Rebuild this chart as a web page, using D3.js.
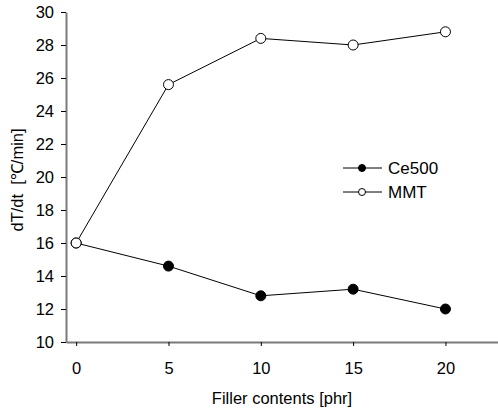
<!DOCTYPE html>
<html>
<head>
<meta charset="utf-8">
<script src="https://cdn.jsdelivr.net/npm/d3@7"></script>
<style>
  body { margin: 0; background: #fff; }
  svg { display: block; font-family: "Liberation Sans", Arial, sans-serif; }
</style>
</head>
<body>
<svg id="chart" width="498" height="413"></svg>
<script>
const fillerContents = [0, 5, 10, 15, 20];
const ce500Values = [16.0, 14.6, 12.8, 13.2, 12.0];
const mmtValues = [16.0, 25.6, 28.4, 28.0, 28.8];
const xTickValues = [0, 5, 10, 15, 20];
const yTickValues = [10, 12, 14, 16, 18, 20, 22, 24, 26, 28, 30];
const seriesNames = ["Ce500", "MMT"];
const xTitle = "Filler contents [phr]";
const yTitle = "dT/dt  [\u2103/min]";

const svg = d3.select("#chart");
const x = d3.scaleLinear().domain([-0.55, 22.9]).range([66, 499]);
const y = d3.scaleLinear().domain([10, 30]).range([342, 12]);

const series = [
  { name: seriesNames[0], values: ce500Values, fill: "#000" },
  { name: seriesNames[1], values: mmtValues, fill: "#fff" }
];

// axes
const xAxis = svg.append("g").attr("transform", "translate(0,342)")
  .call(d3.axisBottom(x).tickValues(xTickValues).tickSizeInner(4).tickSizeOuter(0).tickPadding(16));
const yAxis = svg.append("g").attr("transform", "translate(66,0)")
  .call(d3.axisLeft(y).tickValues(yTickValues).tickSizeInner(5).tickSizeOuter(0).tickPadding(7));
[xAxis, yAxis].forEach(g => {
  g.select(".domain").attr("stroke", "#7a7a7a").attr("stroke-width", 2);
  g.selectAll(".tick line").attr("stroke", "#000").attr("stroke-width", 1);
  g.selectAll(".tick text").attr("fill", "#000").style("font-size", "16.5px")
    .style("font-family", "'Liberation Sans', Arial, sans-serif");
});

// axis titles
svg.append("text").attr("x", 282).attr("y", 404).attr("text-anchor", "middle")
  .style("font-size", "16.5px").text(xTitle);
svg.append("text").attr("transform", "translate(23,180) rotate(-90)")
  .attr("text-anchor", "middle").style("font-size", "16.5px").style("white-space", "pre")
  .text(yTitle);

// lines and markers
const line = d3.line().x((d, i) => x(fillerContents[i])).y(d => y(d));
series.forEach(s => {
  svg.append("path").datum(s.values).attr("d", line)
    .attr("fill", "none").attr("stroke", "#000").attr("stroke-width", 1);
});
series.forEach(s => {
  svg.selectAll(null).data(s.values).enter().append("circle")
    .attr("cx", (d, i) => x(fillerContents[i])).attr("cy", d => y(d)).attr("r", 5)
    .attr("fill", s.fill).attr("stroke", "#000").attr("stroke-width", 1);
});

// legend
const legend = svg.append("g");
series.forEach((s, i) => {
  const ly = 168 + i * 24;
  legend.append("line").attr("x1", 343).attr("x2", 382).attr("y1", ly).attr("y2", ly)
    .attr("stroke", "#000").attr("stroke-width", 1);
  legend.append("circle").attr("cx", 362).attr("cy", ly).attr("r", 3.5)
    .attr("fill", s.fill).attr("stroke", "#000").attr("stroke-width", 1);
  legend.append("text").attr("x", 388).attr("y", ly).attr("dy", "0.36em")
    .style("font-size", "17px").text(s.name);
});
</script>
</body>
</html>
